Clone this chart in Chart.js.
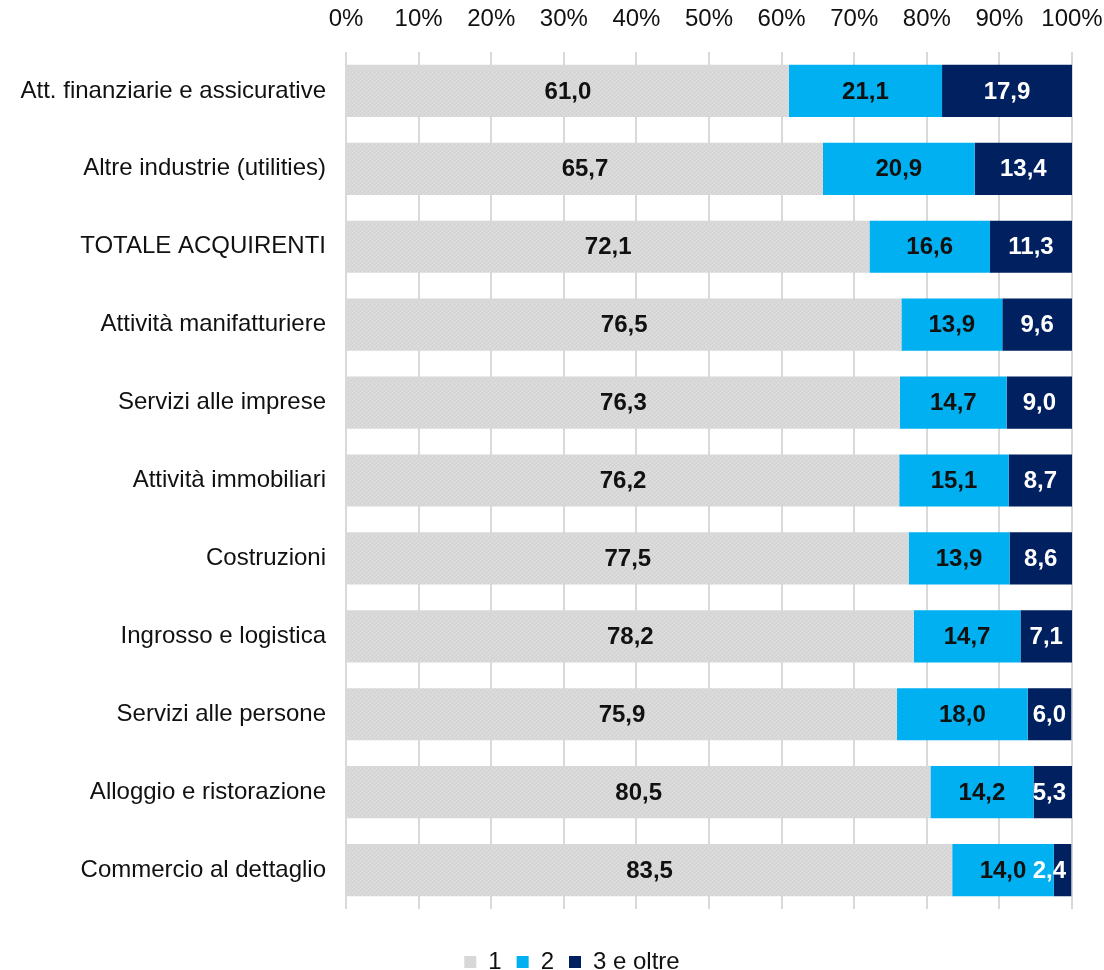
<!DOCTYPE html>
<html lang="it">
<head>
  <meta charset="UTF-8">
  <title>Acquirenti</title>
  <script src="https://cdn.jsdelivr.net/npm/chart.js@4.4.1/dist/chart.umd.min.js"></script>
  <style>
    body { margin: 0; background: #fff; }
    canvas { display: block; }
  </style>
</head>
<body>
  <canvas id="chart" width="1104" height="970"></canvas>

  <script>
    // dati
    const categorie = [
      'Att. finanziarie e assicurative',
      'Altre industrie (utilities)',
      'TOTALE ACQUIRENTI',
      'Attività manifatturiere',
      'Servizi alle imprese',
      'Attività immobiliari',
      'Costruzioni',
      'Ingrosso e logistica',
      'Servizi alle persone',
      'Alloggio e ristorazione',
      'Commercio al dettaglio'
    ];
    const serieNomi = ['1', '2', '3 e oltre'];
    const valori1 = [61.0, 65.7, 72.1, 76.5, 76.3, 76.2, 77.5, 78.2, 75.9, 80.5, 83.5];
    const valori2 = [21.1, 20.9, 16.6, 13.9, 14.7, 15.1, 13.9, 14.7, 18.0, 14.2, 14.0];
    const valori3 = [17.9, 13.4, 11.3, 9.6, 9.0, 8.7, 8.6, 7.1, 6.0, 5.3, 2.4];
    const tickPercent = [0, 10, 20, 30, 40, 50, 60, 70, 80, 90, 100];

    const FONT = "'Liberation Sans', Arial, sans-serif";

    // texture grigia puntinata
    function grigioPattern() {
      const c = document.createElement('canvas');
      c.width = 4; c.height = 4;
      const g = c.getContext('2d');
      g.fillStyle = '#d8d8d8';
      g.fillRect(0, 0, 4, 4);
      g.fillStyle = '#e0e0e0';
      g.fillRect(0, 0, 1, 1);
      g.fillRect(2, 2, 1, 1);
      g.fillStyle = '#d0d0d0';
      g.fillRect(2, 0, 1, 1);
      g.fillRect(0, 2, 1, 1);
      return g.createPattern(c, 'repeat');
    }

    // etichette dei valori dentro le barre
    const etichette = {
      id: 'etichette',
      afterDatasetsDraw(chart) {
        const ctx = chart.ctx;
        const right = chart.chartArea.right;
        ctx.save();
        ctx.font = 'bold 24px ' + FONT;
        ctx.textBaseline = 'middle';
        ctx.textAlign = 'center';
        chart.data.datasets.forEach((ds, i) => {
          const meta = chart.getDatasetMeta(i);
          meta.data.forEach((bar, j) => {
            const txt = ds.data[j].toFixed(1).replace('.', ',');
            const w = ctx.measureText(txt).width;
            let x = (bar.x + bar.base) / 2;
            if (x + w / 2 > right - 6) x = right - 6 - w / 2;
            ctx.fillStyle = i === 2 ? '#ffffff' : '#111111';
            ctx.fillText(txt, x, bar.y + 1);
          });
        });
        ctx.restore();
      }
    };

    // sposta la legenda un po' più in basso e a destra, come nell'originale
    const spostaLegenda = {
      id: 'spostaLegenda',
      afterLayout(chart) {
        const lg = chart.legend;
        lg.top += 26; lg.bottom += 26;
        lg.left += 20; lg.right += 20;
      }
    };

    const colori = [grigioPattern(), '#00b0f0', '#002060'];

    new Chart(document.getElementById('chart'), {
      type: 'bar',
      data: {
        labels: categorie,
        datasets: [valori1, valori2, valori3].map((v, i) => ({
          label: serieNomi[i],
          data: v,
          backgroundColor: colori[i],
          borderWidth: 0,
          categoryPercentage: 1,
          barPercentage: 0.67
        }))
      },
      options: {
        indexAxis: 'y',
        responsive: false,
        animation: false,
        layout: { padding: { left: 0, right: 0, top: 0, bottom: 12 } },
        plugins: {
          legend: {
            position: 'bottom',
            labels: {
              boxWidth: 12,
              boxHeight: 12,
              padding: 15,
              color: '#111',
              font: { family: FONT, size: 24 }
            }
          },
          tooltip: { enabled: false }
        },
        scales: {
          x: {
            position: 'top',
            stacked: true,
            min: 0,
            max: 100,
            afterBuildTicks(scale) {
              scale.ticks = tickPercent.map(v => ({ value: v }));
            },
            afterFit(scale) {
              scale.height = 52;
              scale.paddingLeft = 0;
              scale.paddingRight = 32;
            },
            grid: { color: '#d9d9d9', lineWidth: 2, drawTicks: false },
            border: { display: false },
            ticks: {
              padding: 18,
              color: '#111',
              font: { family: FONT, size: 24 },
              callback: v => v + '%'
            }
          },
          y: {
            stacked: true,
            afterFit(scale) { scale.width = 346; },
            grid: { display: false, drawTicks: false },
            border: { display: false },
            ticks: {
              padding: 20,
              color: '#111',
              font: { family: FONT, size: 24 }
            }
          }
        }
      },
      plugins: [etichette, spostaLegenda]
    });
  </script>
</body>
</html>
